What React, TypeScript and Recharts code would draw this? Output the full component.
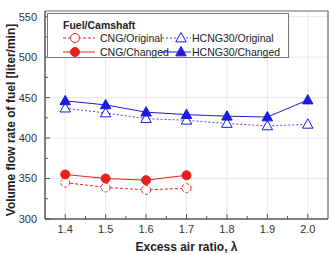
import { LineChart, Line, XAxis, YAxis, ReferenceLine, Label, Legend } from 'recharts';

const lambdas = [1.4, 1.5, 1.6, 1.7, 1.8, 1.9, 2.0];
const cngOriginal = [345, 339, 336, 338];
const cngChanged = [355, 350, 348, 354];
const hcngOriginal = [437, 431, 424, 422, 418, 415, 417];
const hcngChanged = [446, 441, 432, 429, 427, 426, 447];

const xMajor = [1.4, 1.5, 1.6, 1.7, 1.8, 1.9, 2.0];
const xMinor = [1.45, 1.55, 1.65, 1.75, 1.85, 1.95];
const yMajor = [300, 350, 400, 450, 500, 550];
const yMinor = [325, 375, 425, 475, 525];

const RED = '#e8211f';
const BLUE = '#1c1cdc';
const AXIS = '#555';
const GRID = '#dde2ea';
const FONT = 'Arial, "Liberation Sans", sans-serif';

const data = lambdas.map((x, i) => ({
  x,
  cngO: cngOriginal[i],
  cngC: cngChanged[i],
  hO: hcngOriginal[i],
  hC: hcngChanged[i],
}));

const isMajor = (v: number, list: number[]) => list.some((m) => Math.abs(m - v) < 1e-6);

const XTick = (props: any) => {
  const { x, y, payload } = props;
  const major = isMajor(payload.value, xMajor);
  const axisY = y - 6;
  return (
    <g>
      <line x1={x} x2={x} y1={axisY} y2={axisY - (major ? 5 : 3)} stroke={AXIS} strokeWidth={1} />
      {major && (
        <text x={x} y={y} dy="0.71em" textAnchor="middle" fontSize={11} fill="#333" fontFamily={FONT}>
          {payload.value.toFixed(1)}
        </text>
      )}
    </g>
  );
};

const YTick = (props: any) => {
  const { x, y, payload } = props;
  const major = isMajor(payload.value, yMajor);
  const axisX = x + 8;
  return (
    <g>
      <line x1={axisX} x2={axisX + (major ? 5 : 3)} y1={y} y2={y} stroke={AXIS} strokeWidth={1} />
      {major && (
        <text x={x} y={y} dy="0.355em" textAnchor="end" fontSize={11} fill="#333" fontFamily={FONT}>
          {payload.value}
        </text>
      )}
    </g>
  );
};

const Triangle = ({ cx, cy, fill, stroke }: any) => {
  if (cx == null || cy == null) return null;
  const r = 5.5;
  return (
    <polygon
      points={`${cx},${cy - r} ${cx - r * 0.95},${cy + r * 0.7} ${cx + r * 0.95},${cy + r * 0.7}`}
      fill={fill}
      stroke={stroke}
      strokeWidth={1}
    />
  );
};

const openCircle = { r: 4.5, fill: '#fff', stroke: RED, strokeWidth: 1 };
const fullCircle = { r: 4.5, fill: RED, stroke: RED, strokeWidth: 1 };

const renderLegend = () => (
  <svg width={242} height={45} style={{ display: 'block' }}>
    <rect x={0.5} y={0.5} width={241} height={44} fill="#fff" stroke="#777" strokeWidth={1} />
    <text x={16} y={16} fontSize={10.5} fontWeight="bold" fontFamily={FONT} fill="#222">
      Fuel/Camshaft
    </text>
    <line x1={16} x2={48} y1={25} y2={25} stroke={RED} strokeWidth={1} strokeDasharray="3 2" />
    <circle cx={28} cy={25} r={4.5} fill="#fff" stroke={RED} />
    <text x={53} y={29} fontSize={10.5} fontFamily={FONT} fill="#222">CNG/Original</text>
    <line x1={16} x2={48} y1={39} y2={39} stroke={RED} strokeWidth={1} />
    <circle cx={28} cy={39} r={4.5} fill={RED} stroke={RED} />
    <text x={53} y={43} fontSize={10.5} fontFamily={FONT} fill="#222">CNG/Changed</text>
    <line x1={115} x2={144} y1={25} y2={25} stroke={BLUE} strokeWidth={0.8} strokeDasharray="2 2" />
    <Triangle cx={134} cy={25} fill="#fff" stroke={BLUE} />
    <text x={145} y={29} fontSize={10.5} fontFamily={FONT} fill="#222">HCNG30/Original</text>
    <line x1={115} x2={144} y1={39} y2={39} stroke={BLUE} strokeWidth={1} />
    <Triangle cx={134} cy={39} fill={BLUE} stroke={BLUE} />
    <text x={145} y={43} fontSize={10.5} fontFamily={FONT} fill="#222">HCNG30/Changed</text>
  </svg>
);

export default function App() {
  return (
    <div style={{ position: 'fixed', left: 0, top: 0, background: '#fff' }}>
      <LineChart width={329} height={255} data={data} margin={{ top: 11, right: 1, left: 0, bottom: 0 }}>
        <XAxis
          dataKey="x"
          type="number"
          domain={[1.35, 2.05]}
          allowDataOverflow
          ticks={[...xMajor, ...xMinor]}
          interval={0}
          tickSize={0}
          tickMargin={6}
          tick={<XTick />}
          axisLine={{ stroke: AXIS, strokeWidth: 1.5 }}
          height={36}
        >
          <Label
            content={({ viewBox }: any) => (
              <text
                x={viewBox.x + viewBox.width / 2}
                y={251}
                textAnchor="middle"
                fontSize={12}
                fontWeight="bold"
                fontFamily={FONT}
                fill="#222"
              >
                Excess air ratio, λ
              </text>
            )}
          />
        </XAxis>
        <YAxis
          type="number"
          domain={[300, 557]}
          allowDataOverflow
          ticks={[...yMajor, ...yMinor]}
          interval={0}
          tickSize={0}
          tickMargin={8}
          tick={<YTick />}
          axisLine={{ stroke: AXIS, strokeWidth: 1.5 }}
          width={45}
        >
          <Label
            content={({ viewBox }: any) => {
              const cy = viewBox.y + viewBox.height / 2 + 5;
              return (
                <text
                  x={11}
                  y={cy}
                  transform={`rotate(-90 11 ${cy})`}
                  textAnchor="middle"
                  dominantBaseline="central"
                  fontSize={12}
                  fontWeight="bold"
                  fontFamily={FONT}
                  fill="#222"
                >
                  Volume flow rate of fuel [liter/min]
                </text>
              );
            }}
          />
        </YAxis>
        {xMajor.map((v) => (
          <ReferenceLine key={`gx${v}`} x={v} stroke={GRID} strokeWidth={0.8} />
        ))}
        {yMajor.slice(1).map((v) => (
          <ReferenceLine key={`gy${v}`} y={v} stroke={GRID} strokeWidth={0.8} />
        ))}
        <ReferenceLine x={2.05} stroke="#666" strokeWidth={1.2} />
        <ReferenceLine y={557} stroke="#666" strokeWidth={1.2} />
        <Line
          dataKey="cngO"
          stroke={RED}
          strokeWidth={1}
          strokeDasharray="3 2"
          dot={openCircle}
          activeDot={false}
          isAnimationActive={false}
        />
        <Line
          dataKey="cngC"
          stroke={RED}
          strokeWidth={1}
          dot={fullCircle}
          activeDot={false}
          isAnimationActive={false}
        />
        <Line
          dataKey="hO"
          stroke={BLUE}
          strokeWidth={0.8}
          strokeDasharray="2 2"
          dot={(p: any) => <Triangle key={`ho${p.index}`} cx={p.cx} cy={p.cy} fill="#fff" stroke={BLUE} />}
          activeDot={false}
          isAnimationActive={false}
        />
        <Line
          dataKey="hC"
          stroke={BLUE}
          strokeWidth={1}
          dot={(p: any) => <Triangle key={`hc${p.index}`} cx={p.cx} cy={p.cy} fill={BLUE} stroke={BLUE} />}
          activeDot={false}
          isAnimationActive={false}
        />
        <Legend
          layout="horizontal"
          verticalAlign="middle"
          align="center"
          content={renderLegend}
          wrapperStyle={{ position: 'absolute', left: 47, top: 13, width: 242, height: 45 }}
        />
      </LineChart>
    </div>
  );
}
